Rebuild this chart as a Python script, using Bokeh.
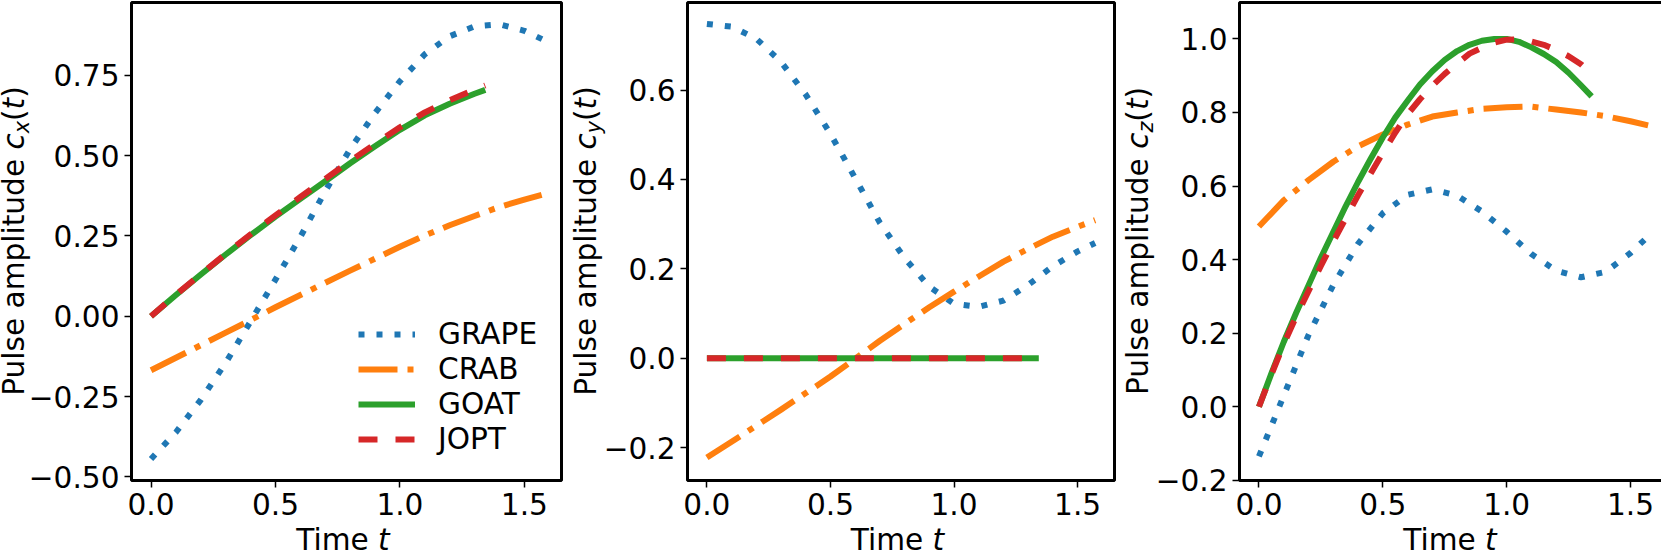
from bokeh.plotting import figure
from bokeh.models import Range1d, FixedTicker, Div
from bokeh.layouts import row, column
from bokeh.embed import file_html
from bokeh.resources import INLINE

# ---------------- data ----------------
T_LONG = [0.0, 0.1, 0.2, 0.3, 0.4, 0.5, 0.6, 0.7, 0.8, 0.9, 1.0, 1.1, 1.2, 1.3, 1.4, 1.5, 1.571]
T_SHORT = [0.0, 0.1, 0.2, 0.3, 0.4, 0.5, 0.6, 0.7, 0.8, 0.9, 1.0, 1.1, 1.2, 1.3, 1.343]
T_SHORT_FINE = [0.0, 0.05, 0.1, 0.15, 0.2, 0.25, 0.3, 0.35, 0.4, 0.45, 0.5, 0.55, 0.6, 0.65, 0.7,
                0.75, 0.8, 0.85, 0.9, 0.95, 1.0, 1.05, 1.1, 1.15, 1.2, 1.25, 1.3, 1.343]

# panel x
GRAPE_X = [-0.444, -0.361, -0.260, -0.145, -0.016, 0.114, 0.247, 0.389, 0.520, 0.632, 0.731, 0.815, 0.871, 0.902, 0.908, 0.888, 0.862]
CRAB_X = [-0.168, -0.129, -0.090, -0.051, -0.012, 0.028, 0.066, 0.104, 0.142, 0.179, 0.216, 0.251, 0.283, 0.312, 0.340, 0.363, 0.378]
GOAT_X = [0.0, 0.066, 0.130, 0.192, 0.252, 0.310, 0.365, 0.420, 0.476, 0.529, 0.580, 0.625, 0.661, 0.692, 0.704]
JOPT_X = [0.0, 0.067, 0.131, 0.194, 0.255, 0.314, 0.371, 0.427, 0.483, 0.536, 0.588, 0.634, 0.672, 0.705, 0.718]

# panel y
GRAPE_Y = [0.748, 0.742, 0.715, 0.663, 0.590, 0.502, 0.403, 0.303, 0.224, 0.160, 0.122, 0.115, 0.129, 0.164, 0.206, 0.239, 0.258]
CRAB_Y = [-0.222, -0.187, -0.151, -0.115, -0.078, -0.041, -0.001, 0.039, 0.077, 0.114, 0.149, 0.183, 0.216, 0.245, 0.272, 0.294, 0.309]
GOAT_Y = [0.0, 0.0, 0.0, 0.0, 0.0, 0.0, 0.0, 0.0, 0.0, 0.0, 0.0, 0.0, 0.0, 0.0, 0.0]
JOPT_Y = [0.0, 0.0, 0.0, 0.0, 0.0, 0.0, 0.0, 0.0, 0.0, 0.0, 0.0, 0.0, 0.0, 0.0, 0.0]

# panel z
GRAPE_Z = [-0.135, 0.030, 0.195, 0.331, 0.443, 0.526, 0.576, 0.591, 0.574, 0.531, 0.476, 0.415, 0.370, 0.352, 0.367, 0.418, 0.463]
CRAB_Z = [0.490, 0.561, 0.616, 0.666, 0.708, 0.740, 0.767, 0.789, 0.800, 0.810, 0.814, 0.816, 0.808, 0.800, 0.790, 0.776, 0.765]
GOAT_Z = [0.000, 0.090, 0.176, 0.255, 0.330, 0.405, 0.475, 0.545, 0.611, 0.673, 0.732, 0.786, 0.832, 0.876,
          0.912, 0.943, 0.967, 0.984, 0.995, 1.000, 1.000, 0.992, 0.977, 0.959, 0.937, 0.908, 0.874, 0.844]
JOPT_Z = [0.000, 0.087, 0.170, 0.245, 0.314, 0.383, 0.449, 0.512, 0.575, 0.633, 0.690, 0.745, 0.795, 0.836,
          0.873, 0.905, 0.933, 0.960, 0.976, 0.990, 0.998, 0.999, 0.993, 0.984, 0.970, 0.953, 0.931, 0.905]

METHODS = ["GRAPE", "CRAB", "GOAT", "JOPT"]

X_TICKS = [0.0, 0.5, 1.0, 1.5]
X_TICK_LABELS = ["0.0", "0.5", "1.0", "1.5"]
Y_TICKS_1 = [-0.5, -0.25, 0.0, 0.25, 0.5, 0.75]
Y_TICK_LABELS_1 = ["\u22120.50", "\u22120.25", "0.00", "0.25", "0.50", "0.75"]
Y_TICKS_2 = [-0.2, 0.0, 0.2, 0.4, 0.6]
Y_TICK_LABELS_2 = ["\u22120.2", "0.0", "0.2", "0.4", "0.6"]
Y_TICKS_3 = [-0.2, 0.0, 0.2, 0.4, 0.6, 0.8, 1.0]
Y_TICK_LABELS_3 = ["\u22120.2", "0.0", "0.2", "0.4", "0.6", "0.8", "1.0"]

# ---------------- styling / layout ----------------
COLORS = {"GRAPE": "#1f77b4", "CRAB": "#ff7f0e", "GOAT": "#2ca02c", "JOPT": "#d62728"}
DASHES = {"GRAPE": "6 12", "CRAB": "39 10 6 10", "GOAT": "solid", "JOPT": "19 18"}
LW = 6
FONT = "DejaVu Sans"
FS = 29.6
FH = 478
TOP = 2
BOTTOM = 48
TOTAL_H = 555
DX_H = TOTAL_H - (TOP + FH + BOTTOM)
X_RANGE = (-0.0785, 1.6493)
TEXT_CSS = f"font-family:'DejaVu Sans';font-size:{FS}px;color:#000;white-space:nowrap;"
BASE_OFF = (28 - 1.164 * FS) / 2 + 0.928 * FS   # baseline offset inside a 28px line box


def ylabel_div(sub, width, baseline_x, fh):
    left = baseline_x - BASE_OFF
    html = (
        f'<div style="position:relative;width:{width}px;height:{TOTAL_H}px;">'
        f'<div style="position:absolute;left:{left:.2f}px;top:{TOP + fh}px;width:{fh}px;'
        f'height:28px;line-height:28px;text-align:center;transform-origin:0 0;'
        f'transform:rotate(-90deg);{TEXT_CSS}">'
        f'Pulse amplitude <i>c</i><i style="font-size:{0.7 * FS:.1f}px;position:relative;top:5px;">{sub}</i>'
        f'(<i>t</i>)</div></div>'
    )
    return Div(text=html, width=width, height=TOTAL_H, margin=0)


def xlabel_div(fig_w, left, fw):
    html = (
        f'<div style="position:relative;width:{fig_w}px;height:{DX_H}px;">'
        f'<div style="position:absolute;left:{left}px;top:1px;width:{fw}px;height:22px;'
        f'line-height:22px;text-align:center;{TEXT_CSS}">Time <i>t</i></div></div>'
    )
    return Div(text=html, width=fig_w, height=DX_H, margin=0)


def make_panel(series, yr, yticks, ylabels, fw, left_border, right_border, legend=False):
    p = figure(frame_width=fw, frame_height=FH, output_backend="svg", toolbar_location=None,
               x_range=Range1d(*X_RANGE), y_range=Range1d(*yr),
               min_border_left=left_border, min_border_right=right_border,
               min_border_top=TOP, min_border_bottom=BOTTOM,
               background_fill_color="white", border_fill_color=None)
    p.xgrid.visible = False
    p.ygrid.visible = False
    p.outline_line_color = "black"
    p.outline_line_width = 3
    p.outline_line_alpha = 1.0
    for name in METHODS:
        tt, vv = series[name]
        kw = dict(line_color=COLORS[name], line_width=LW, line_dash=DASHES[name],
                  line_join="round")
        if legend:
            kw["legend_label"] = name
        p.line(tt, vv, **kw)
    for ax, ticks, labels in ((p.xaxis, X_TICKS, X_TICK_LABELS), (p.yaxis, yticks, ylabels)):
        ax.ticker = FixedTicker(ticks=ticks)
        ax.major_label_overrides = dict(zip(ticks, labels))
        ax.axis_line_color = None
        ax.minor_tick_line_color = None
        ax.major_tick_line_color = "black"
        ax.major_tick_line_width = 1.5
        ax.major_tick_out = 7
        ax.major_tick_in = 0
        ax.major_label_standoff = 5
        ax.major_label_text_font = FONT
        ax.major_label_text_font_size = f"{FS}px"
        ax.major_label_text_color = "black"
    if legend:
        lg = p.legend[0]
        lg.location = (227, 24)
        lg.border_line_alpha = 0
        lg.background_fill_alpha = 0
        lg.label_text_font = FONT
        lg.label_text_font_size = f"{FS}px"
        lg.label_text_color = "black"
        lg.glyph_width = 57
        lg.glyph_height = 20
        lg.label_standoff = 23
        lg.spacing = 1
        lg.padding = 0
        lg.margin = 0
    return p


FW1, FW2, FW3 = 430, 427, 428
L1, L2, L3 = 103, 84, 84
R1, R2, R3 = 3, 3, 2
D1, D2, D3 = 25, 36, 35

p1 = make_panel({"GRAPE": (T_LONG, GRAPE_X), "CRAB": (T_LONG, CRAB_X),
                 "GOAT": (T_SHORT, GOAT_X), "JOPT": (T_SHORT, JOPT_X)},
                (-0.511, 0.976), Y_TICKS_1, Y_TICK_LABELS_1, FW1, L1, R1, legend=True)
p2 = make_panel({"GRAPE": (T_LONG, GRAPE_Y), "CRAB": (T_LONG, CRAB_Y),
                 "GOAT": (T_SHORT, GOAT_Y), "JOPT": (T_SHORT, JOPT_Y)},
                (-0.2736, 0.796), Y_TICKS_2, Y_TICK_LABELS_2, FW2, L2, R2)
p3 = make_panel({"GRAPE": (T_LONG, GRAPE_Z), "CRAB": (T_LONG, CRAB_Z),
                 "GOAT": (T_SHORT_FINE, GOAT_Z), "JOPT": (T_SHORT_FINE, JOPT_Z)},
                (-0.2005, 1.099), Y_TICKS_3, Y_TICK_LABELS_3, FW3, L3, R3)

layout = row(
    ylabel_div("x", D1, BASE_OFF, FH),
    column(p1, xlabel_div(L1 + FW1 + R1, L1, FW1), spacing=0),
    ylabel_div("y", D2, D2 + L2 - 88, FH),
    column(p2, xlabel_div(L2 + FW2 + R2, L2, FW2), spacing=0),
    ylabel_div("z", D3, D3 + L3 - 88, FH),
    column(p3, xlabel_div(L3 + FW3 + R3, L3, FW3), spacing=0),
    spacing=0,
)
open("out.html", "w").write(file_html(layout, INLINE))
